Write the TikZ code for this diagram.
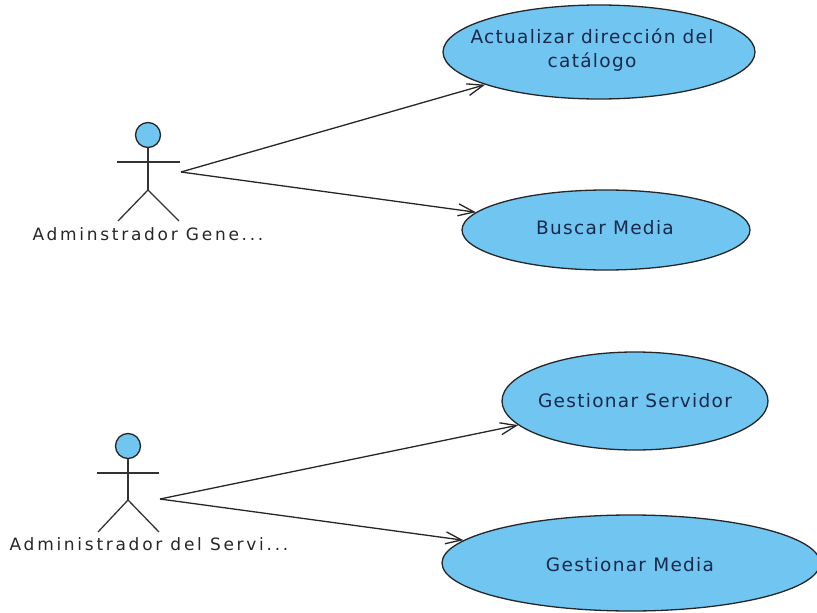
\documentclass[tikz,border=0pt]{standalone}
\usepackage{fontspec}
\setmainfont{DejaVu Sans}
\newfontfamily\ucfont{DejaVu Sans}[LetterSpace=7]
\newfontfamily\actfont{DejaVu Sans}[LetterSpace=16]
\usetikzlibrary{shapes.geometric,arrows.meta}
\definecolor{ucfill}{RGB}{112,198,240}
\definecolor{uctext}{RGB}{25,40,75}
\tikzset{
  usecase/.style={ellipse, draw=black!85, line width=1.3pt, fill=ucfill, inner sep=0pt},
  uclabel/.style={text=uctext, inner sep=0pt, font=\ucfont\fontsize{18.5}{24}\selectfont, align=center},
  actorline/.style={draw=black!80, line width=1.3pt},
  actorlabel/.style={text=black!85, font=\actfont\fontsize{17}{20}\selectfont, inner sep=0pt},
  assoc/.style={draw=black!85, line width=1.3pt, -{Straight Barb[length=16pt,width=12pt,line width=1.3pt]}}
}
\begin{document}
\begin{tikzpicture}[x=1pt,y=-1pt]
\useasboundingbox (0,0) rectangle (817,613);
\begin{scope}
\clip (0,0) rectangle (817,613);
% use cases
\node[usecase, minimum width=312pt, minimum height=94pt] (uc1) at (599,52) {};
\node[usecase, minimum width=288pt, minimum height=80pt] (uc2) at (606,230) {};
\node[usecase, minimum width=266pt, minimum height=98pt] (uc3) at (635,401) {};
\node[usecase, minimum width=378pt, minimum height=96pt] (uc4) at (631,563) {};
\end{scope}
\node[uclabel] (t1) at (592,50) {Actualizar dirección del\\catálogo};
\node[uclabel] (t2) at (605,228) {Buscar Media};
\node[uclabel] (t3) at (635,401) {Gestionar Servidor};
\node[uclabel] (t4) at (630,565) {Gestionar Media};
% actor 1
\node[circle, draw=black!85, line width=1.3pt, fill=ucfill, minimum size=25pt, inner sep=0pt] (h1) at (148,135) {};
\coordinate (hip1) at (148,190);
\draw[actorline] (h1.south) -- (hip1);
\draw[actorline] (117,162) -- (180,162);
\draw[actorline] (118,221) -- (hip1) -- (179,221);
\node[actorlabel, anchor=base] (l1) at (148,240) {Adminstrador Gene...};
\coordinate (a1) at (181,172);
% actor 2
\node[circle, draw=black!85, line width=1.3pt, fill=ucfill, minimum size=25pt, inner sep=0pt] (h2) at (128,446) {};
\coordinate (hip2) at (128,500);
\draw[actorline] (h2.south) -- (hip2);
\draw[actorline] (97,473) -- (159,473);
\draw[actorline] (98,532) -- (hip2) -- (159,532);
\node[actorlabel, anchor=base] (l2) at (149,550) {Administrador del Servi...};
\coordinate (a2) at (160,499);
% associations
\draw[assoc] (a1) -- (uc1);
\draw[assoc] (a1) -- (uc2);
\draw[assoc] (a2) -- (uc3);
\draw[assoc] (a2) -- (uc4);
\end{tikzpicture}
\end{document}
